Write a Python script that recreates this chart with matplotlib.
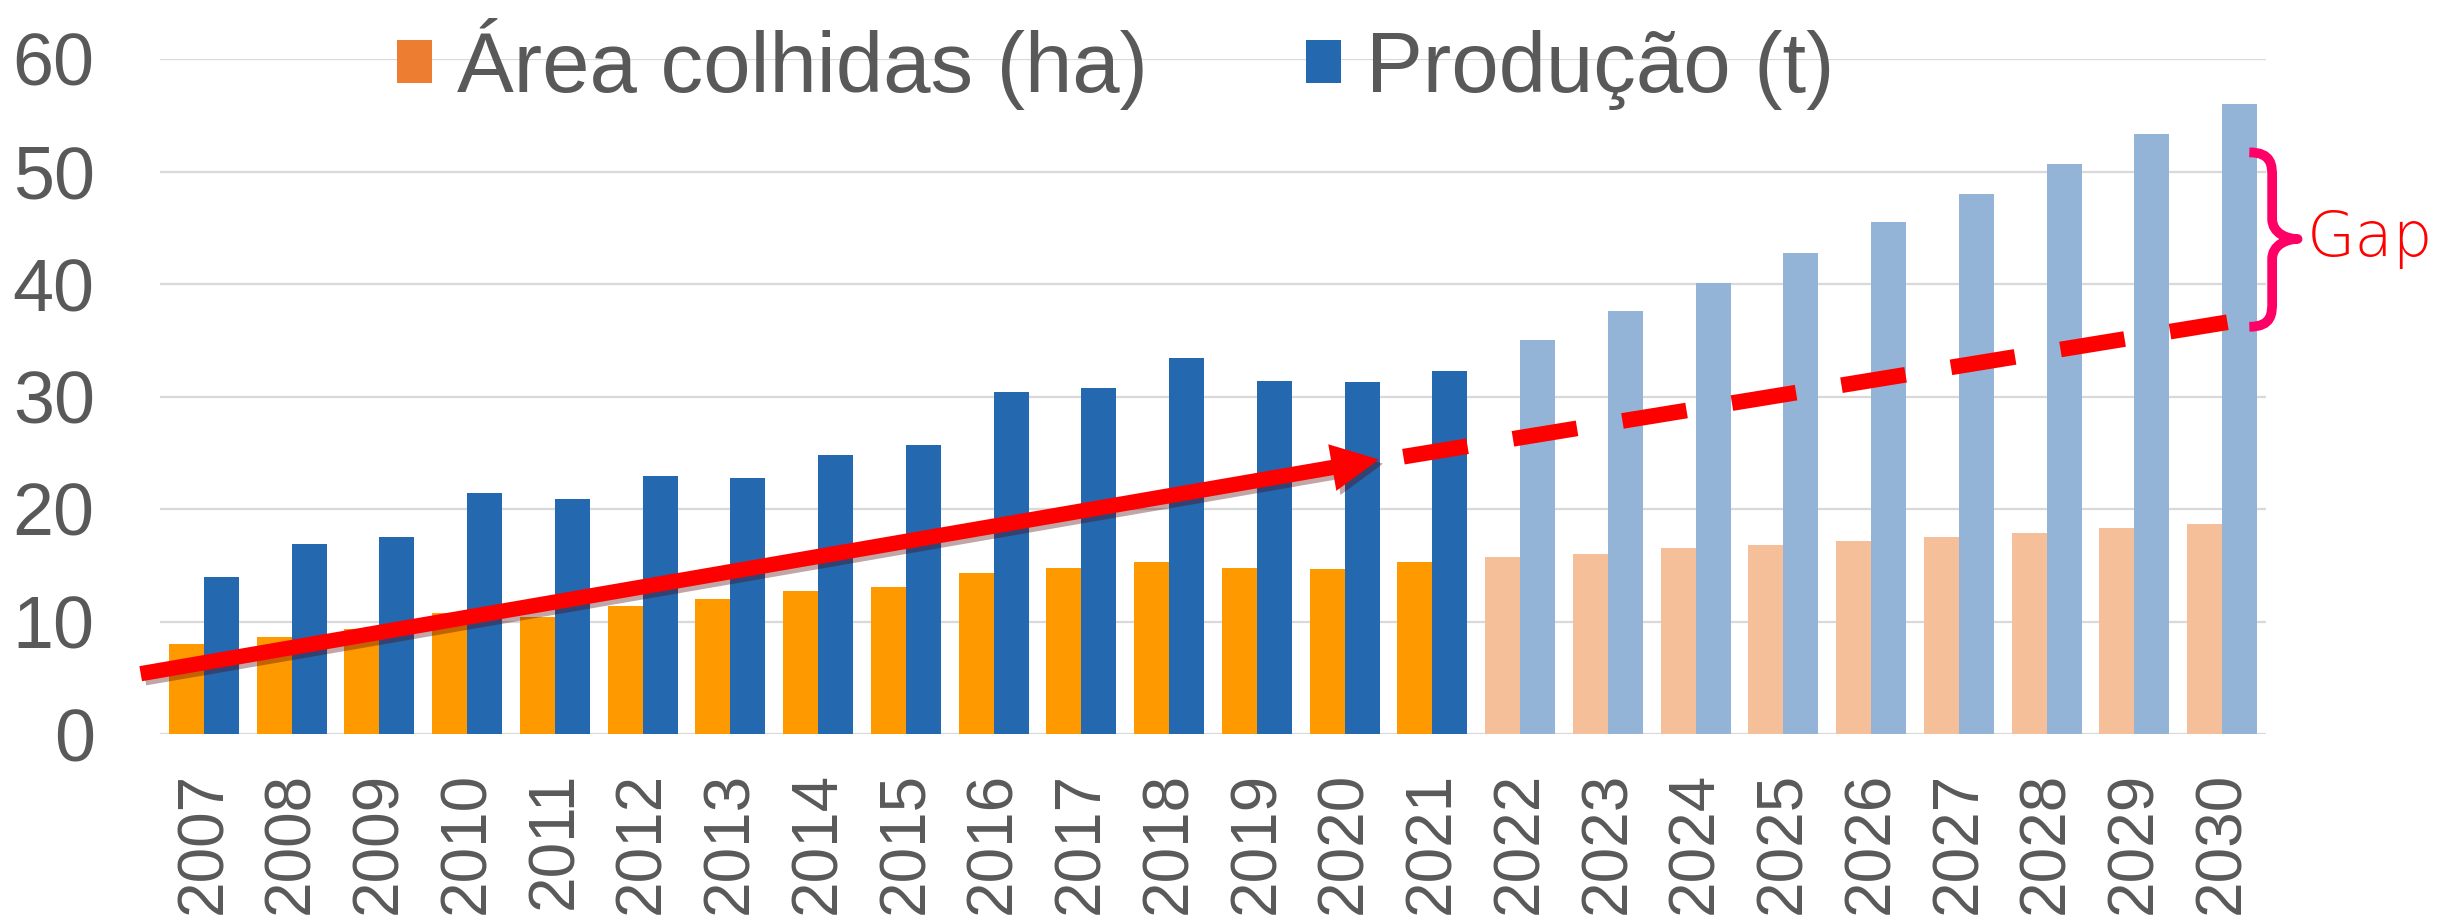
import matplotlib
matplotlib.use("Agg")
import matplotlib.pyplot as plt
from matplotlib.patches import Patch, FancyArrowPatch, PathPatch, ArrowStyle
from matplotlib.path import Path
import matplotlib.patheffects as pe

plt.rcParams['font.family'] = ['Liberation Sans', 'DejaVu Sans']

# ---------------- data ----------------
years = ["2007", "2008", "2009", "2010", "2011", "2012", "2013", "2014",
         "2015", "2016", "2017", "2018", "2019", "2020", "2021", "2022",
         "2023", "2024", "2025", "2026", "2027", "2028", "2029", "2030"]
area = [8.0, 8.6, 9.3, 10.8, 10.4, 11.4, 12.0, 12.7, 13.1, 14.3, 14.8, 15.3,
        14.8, 14.7, 15.3, 15.7, 16.0, 16.5, 16.8, 17.2, 17.55, 17.9, 18.3, 18.7]
producao = [14.0, 16.9, 17.5, 21.4, 20.9, 22.9, 22.8, 24.8, 25.7, 30.4, 30.8,
            33.4, 31.4, 31.3, 32.3, 35.0, 37.6, 40.1, 42.8, 45.5, 48.0, 50.7,
            53.3, 56.0]
first_projected = "2022"
series_labels = ["Área colhidas (ha)", "Produção (t)"]
yticks = [0, 10, 20, 30, 40, 50, 60]

# trend annotation (category index, value)
trend_solid_x = [-0.72, 13.39]
trend_solid_y = [5.36, 24.4]
trend_dash_x = [13.67, 23.06]
trend_dash_y = [24.65, 36.6]
gap_top, gap_tip, gap_bottom = 51.7, 44.0, 36.2
gap_label = "Gap"

# ---------------- styles ----------------
c_area_hist, c_area_proj = "#FF9900", "#F5BF99"
c_prod_hist, c_prod_proj = "#2468B0", "#93B4D7"
c_leg_area, c_leg_prod = "#ED7D31", "#2468B0"
txt = "#595959"
red = "#FF0000"

fig = plt.figure(figsize=(24.61, 9.19), dpi=100)
ax = fig.add_axes([160 / 2461, 1 - 734 / 919, (2266 - 160) / 2461, (734 - 59) / 919])

idx = list(range(len(years)))
split = years.index(first_projected)
w = 0.4
area_colors = [c_area_hist if i < split else c_area_proj for i in idx]
prod_colors = [c_prod_hist if i < split else c_prod_proj for i in idx]
ax.bar([i - w / 2 for i in idx], area, width=w, color=area_colors, zorder=2)
ax.bar([i + w / 2 for i in idx], producao, width=w, color=prod_colors, zorder=2)

ax.set_xlim(-0.5, len(years) - 0.5)
ax.set_ylim(0, 60)
ax.set_yticks(yticks)
ax.set_xticks(idx)
ax.set_xticklabels(years, rotation=90)
ax.tick_params(axis='both', length=0, labelcolor=txt)
ax.tick_params(axis='y', pad=47, labelsize=53)
ax.tick_params(axis='x', pad=27, labelsize=46)
for s in ax.spines.values():
    s.set_visible(False)
ax.set_axisbelow(True)
ax.yaxis.grid(True, color="#D9D9D9", lw=1.6)

# solid trend arrow
arrow = FancyArrowPatch(
    posA=(trend_solid_x[0], trend_solid_y[0]),
    posB=(trend_solid_x[1], trend_solid_y[1]),
    arrowstyle=ArrowStyle("Simple", head_length=34, head_width=34, tail_width=11),
    mutation_scale=1, color=red, lw=0, shrinkA=0, shrinkB=0,
    clip_on=False, zorder=5,
    path_effects=[pe.SimplePatchShadow(offset=(3, -3), alpha=0.35), pe.Normal()])
ax.add_patch(arrow)

# dashed projection
ax.plot(trend_dash_x, trend_dash_y, color=red, lw=11.3, dashes=(4.14, 2.93),
        dash_capstyle='butt', clip_on=False, zorder=5)

# brace
x0, xv, xt = 23.31, 23.57, 23.86
verts = [
    (x0, gap_top),
    (xv, gap_top), (xv, gap_top - 1.2), (xv, gap_top - 2.2),
    (xv, gap_tip + 1.8),
    (xv, gap_tip + 0.5), (xt - 0.12, gap_tip), (xt, gap_tip),
    (xt - 0.12, gap_tip), (xv, gap_tip - 0.5), (xv, gap_tip - 1.8),
    (xv, gap_bottom + 2.2),
    (xv, gap_bottom + 1.2), (xv, gap_bottom), (x0, gap_bottom),
]
codes = [Path.MOVETO,
         Path.CURVE4, Path.CURVE4, Path.CURVE4,
         Path.LINETO,
         Path.CURVE4, Path.CURVE4, Path.CURVE4,
         Path.CURVE4, Path.CURVE4, Path.CURVE4,
         Path.LINETO,
         Path.CURVE4, Path.CURVE4, Path.CURVE4]
brace = PathPatch(Path(verts, codes), fill=False, edgecolor="#FF0066", lw=7,
                  capstyle='butt', joinstyle='round', clip_on=False, zorder=6)
ax.add_patch(brace)
ax.text(23.97, gap_tip, gap_label, color=red, fontsize=45, va='center', ha='left',
        family=['DejaVu Sans'], fontweight='light', clip_on=False)

# legend
handles = [Patch(facecolor=c_leg_area, edgecolor='none'),
           Patch(facecolor=c_leg_prod, edgecolor='none')]
fig.legend(handles, series_labels, loc='center left',
           bbox_to_anchor=(397 / 2461, 1 - 64 / 919), ncol=2, frameon=False,
           fontsize=61.3, handlelength=0.41, handleheight=0.41,
           handletextpad=0.30, columnspacing=1.85, borderpad=0,
           borderaxespad=0, labelcolor=txt)

fig.savefig("out.png", dpi=100)
